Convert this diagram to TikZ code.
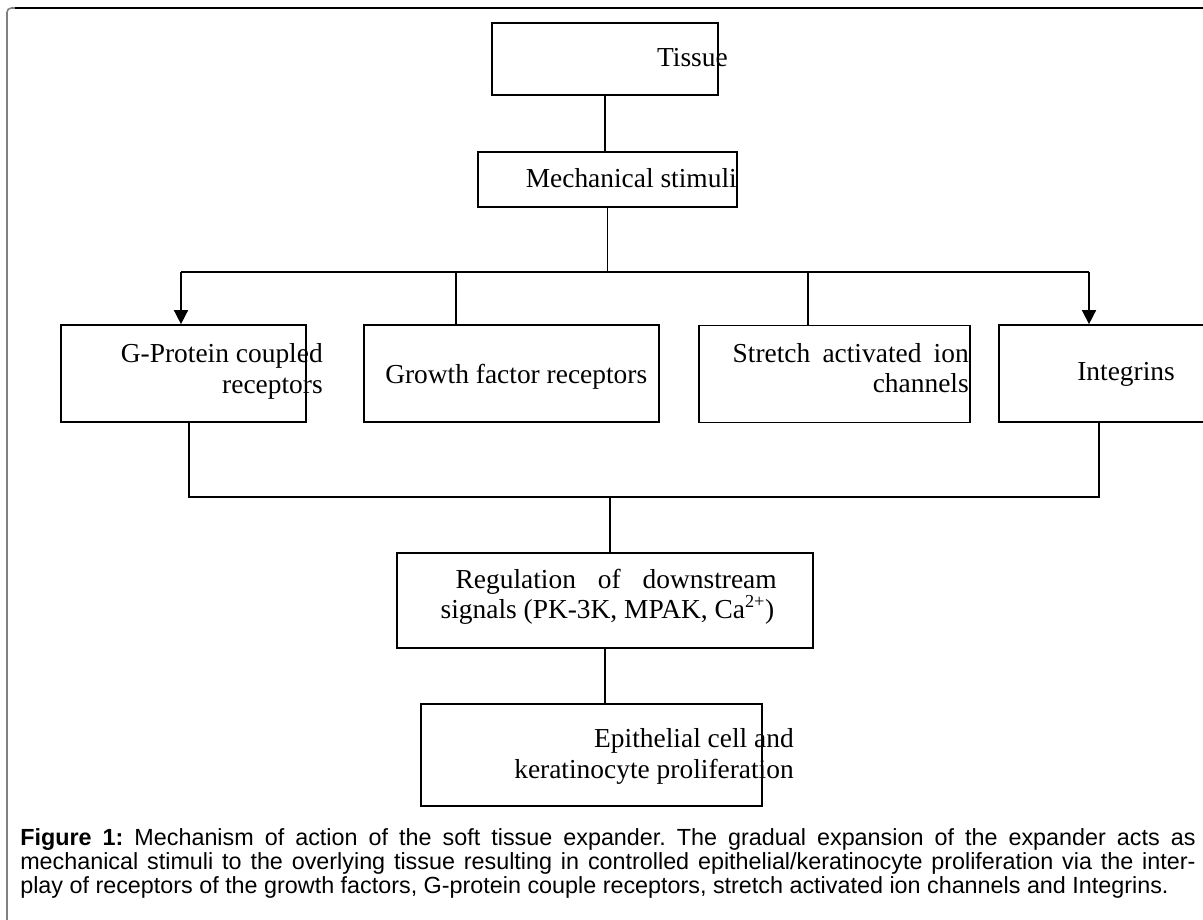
\documentclass[tikz,border=0pt]{standalone}
\usepackage{fontspec}
\setmainfont{Liberation Serif}
\newfontfamily\capfont{Liberation Sans}
\usepackage{tikz}
\usetikzlibrary{arrows.meta}

\begin{document}
\frenchspacing
\begin{tikzpicture}[x=0.025cm, y=-0.025cm,
    blk/.style={draw, rectangle, line width=1.2pt, inner sep=0pt},
    txt/.style={inner sep=0pt, font=\fontsize{19.5}{21.5}\selectfont},
    link/.style={line width=1.1pt},
    arr/.style={link, -{Triangle[length=0.35cm, width=0.35cm]}}]
    \useasboundingbox (0,0) rectangle (1203,920);
    \clip (0,0) rectangle (1203,920);

    % frame
    \draw[line width=1.1pt, gray, rounded corners=3pt] (7,930) -- (7,8) -- (20,8);
    \draw[line width=1.1pt] (15,8) -- (1210,8);

    % boxes
    \node[blk, minimum width=5.65cm, minimum height=1.8cm] (tissue) at (605,59) {};
    \node[blk, minimum width=6.475cm, minimum height=1.375cm] (mech) at (607.5,179.5) {};
    \node[blk, minimum width=6.125cm, minimum height=2.425cm] (gpcr) at (183.5,373.5) {};
    \node[blk, minimum width=7.375cm, minimum height=2.425cm] (growth) at (511.5,373.5) {};
    \node[blk, minimum width=6.775cm, minimum height=2.425cm] (stretch) at (834.5,374) {};
    \node[blk, minimum width=6.025cm, minimum height=2.425cm] (integ) at (1119.5,373.5) {};
    \node[blk, minimum width=10.4cm, minimum height=2.375cm] (reg) at (605,600.5) {};
    \node[blk, minimum width=8.525cm, minimum height=2.55cm] (epi) at (591.5,755) {};

    % texts
    \node[txt, anchor=base east] (tissuetxt) at (728,67) {Tissue};
    \node[txt, anchor=base east] (mechtxt) at (737,187) {Mechanical stimuli};
    \node[txt, anchor=base east, align=right] (gpcrtxt) at (323,393) {G-Protein coupled\\receptors};
    \node[txt, anchor=base west] (growthtxt) at (385,383) {Growth factor receptors};
    \node[txt, anchor=base east, text width=5.9cm, align=right] (stretchtxt) at (969,362)
        {Stretch\hfill activated\hfill ion\\channels};
    \node[txt, anchor=base west] (integtxt) at (1077,380) {Integrins};
    \node[txt, anchor=base east, text width=8.4cm, align=justify] (regtxt) at (777,588)
        {\hspace*{0.375cm}Regulation of downstream\linebreak signals (PK-3K, MPAK, Ca\textsuperscript{\fontsize{13}{13}\selectfont 2+})};
    \node[txt, anchor=base east, align=right] (epitxt) at (794,778) {Epithelial cell and\\keratinocyte proliferation};

    % connectors
    \coordinate (tl) at (181,272);
    \coordinate (tg) at (456,272);
    \coordinate (ts) at (808,272);
    \coordinate (tr) at (1089,272);
    \coordinate (bl) at (189,497);
    \coordinate (bm) at (610,497);
    \coordinate (br) at (1099,497);

    \draw[link] (tissue.south) -- (tissue.south |- mech.north);
    \draw[link] (mech.south) -- (mech.south |- tl);
    \draw[link] (tl) -- (tr);
    \draw[arr] (tl) -- (tl |- gpcr.north);
    \draw[link] (tg) -- (tg |- growth.north);
    \draw[link] (ts) -- (ts |- stretch.north);
    \draw[arr] (tr) -- (tr |- integ.north);
    \draw[link] (bl |- gpcr.south) -- (bl) -- (br) -- (br |- integ.south);
    \draw[link] (bm) -- (bm |- reg.north);
    \draw[link] (reg.south) -- (reg.south |- epi.north);

    % caption
    \node[inner sep=0pt, anchor=base west, text width=29.375cm, align=justify,
        font=\capfont\fontsize{16.6}{17.3}\selectfont] (caption) at (20,845)
        {\textbf{Figure 1:} Mechanism of action of the soft tissue expander. The gradual expansion of the expander acts as\linebreak
        mechanical stimuli to the overlying tissue resulting in controlled epithelial/keratinocyte proliferation via the inter-\linebreak
        play of receptors of the growth factors, G-protein couple receptors, stretch activated ion channels and Integrins.};
\end{tikzpicture}
\end{document}
